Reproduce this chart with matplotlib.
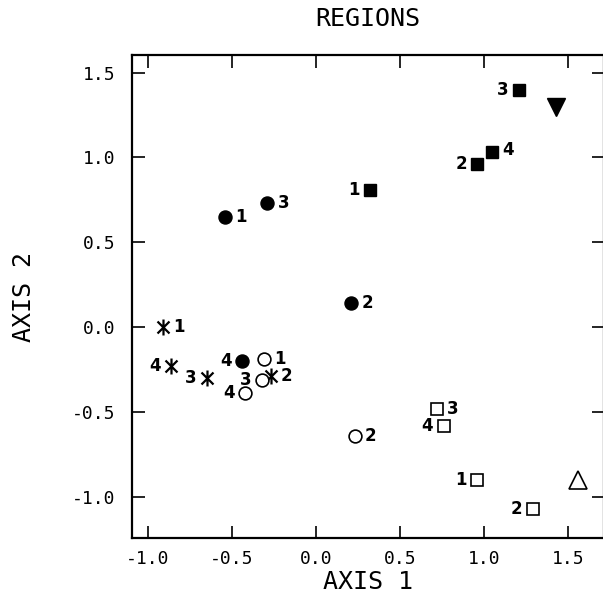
import matplotlib
matplotlib.use("Agg")
import matplotlib.pyplot as plt
from matplotlib.path import Path

# filled squares
fsq_x = [0.32, 0.96, 1.21, 1.05]
fsq_y = [0.81, 0.96, 1.40, 1.03]
fsq_lab = ["1", "2", "3", "4"]

# filled circles
fci_x = [-0.54, 0.21, -0.29, -0.44]
fci_y = [0.65, 0.14, 0.73, -0.20]
fci_lab = ["1", "2", "3", "4"]

# asterisks
ast_x = [-0.91, -0.27, -0.65, -0.86]
ast_y = [0.00, -0.29, -0.30, -0.23]
ast_lab = ["1", "2", "3", "4"]

# open circles
oci_x = [-0.31, 0.23, -0.32, -0.42]
oci_y = [-0.19, -0.64, -0.31, -0.39]
oci_lab = ["1", "2", "3", "4"]

# open squares
osq_x = [0.96, 1.29, 0.72, 0.76]
osq_y = [-0.90, -1.07, -0.48, -0.58]
osq_lab = ["1", "2", "3", "4"]

# unlabelled centroids
tri_down = (1.43, 1.30)
tri_up = (1.56, -0.90)

xticks = [-1.0, -0.5, 0.0, 0.5, 1.0, 1.5]
yticks = [-1.0, -0.5, 0.0, 0.5, 1.0, 1.5]

FONT = "DejaVu Sans Mono"

asterisk = Path(
    [(0, -1), (0, 1), (-0.75, -0.75), (0.75, 0.75), (-0.75, 0.75), (0.75, -0.75)],
    [Path.MOVETO, Path.LINETO, Path.MOVETO, Path.LINETO, Path.MOVETO, Path.LINETO],
)

fig = plt.figure(figsize=(6.03, 5.99), dpi=100)
ax = fig.add_axes([132 / 603, 61 / 599, 472 / 603, 483 / 599])

ax.plot(fsq_x, fsq_y, "s", color="black", ms=8.6, ls="none")
ax.plot(fci_x, fci_y, "o", color="black", ms=9.4, ls="none")
ax.plot(ast_x, ast_y, marker=asterisk, color="black", ms=11.5, mew=1.6, ls="none")
ax.plot(oci_x, oci_y, "o", mfc="white", mec="black", ms=9.2, mew=1.2, ls="none")
ax.plot(osq_x, osq_y, "s", mfc="white", mec="black", ms=8.4, mew=1.2, ls="none")
ax.plot(*tri_down, "v", color="black", ms=13)
ax.plot(*tri_up, "^", mfc="white", mec="black", ms=13, mew=1.2)

# which side each number sits on: +1 right, -1 left
sides = {
    "fsq": [-1, -1, -1, 1],
    "fci": [1, 1, 1, -1],
    "ast": [1, 1, -1, -1],
    "oci": [1, 1, -1, -1],
    "osq": [-1, -1, 1, -1],
}


def label_points(xs, ys, labs, side, dy=None):
    for i, (x, y, t) in enumerate(zip(xs, ys, labs)):
        s = side[i]
        oy = 0 if dy is None else dy[i]
        ax.annotate(t, (x, y), xytext=(s * 7.5, oy), textcoords="offset points",
                    ha="left" if s > 0 else "right", va="center",
                    fontsize=12, fontweight="bold", family="DejaVu Sans")


label_points(fsq_x, fsq_y, fsq_lab, sides["fsq"], dy=[0, 0, 0, 2])
label_points(fci_x, fci_y, fci_lab, sides["fci"])
label_points(ast_x, ast_y, ast_lab, sides["ast"])
label_points(oci_x, oci_y, oci_lab, sides["oci"])
label_points(osq_x, osq_y, osq_lab, sides["osq"])

ax.set_xlim(-1.095, 1.715)
ax.set_ylim(-1.243, 1.604)
ax.set_xticks(xticks)
ax.set_yticks(yticks)
ax.set_xticklabels([f"{v:.1f}" for v in xticks], family=FONT, fontsize=13)
ax.set_yticklabels([f"{v:.1f}" for v in yticks], family=FONT, fontsize=13)
ax.tick_params(direction="in", length=9, width=1.2, top=True, right=True)
ax.tick_params(axis="y", pad=12)
ax.tick_params(axis="x", pad=9)
for sp in ax.spines.values():
    sp.set_linewidth(1.6)

ax.set_title("REGIONS", family=FONT, fontsize=18, pad=21)
ax.set_xlabel("AXIS 1", family=FONT, fontsize=18, labelpad=1)
ax.set_ylabel("AXIS 2", family=FONT, fontsize=18, labelpad=26)

fig.savefig("out.png", dpi=100)
